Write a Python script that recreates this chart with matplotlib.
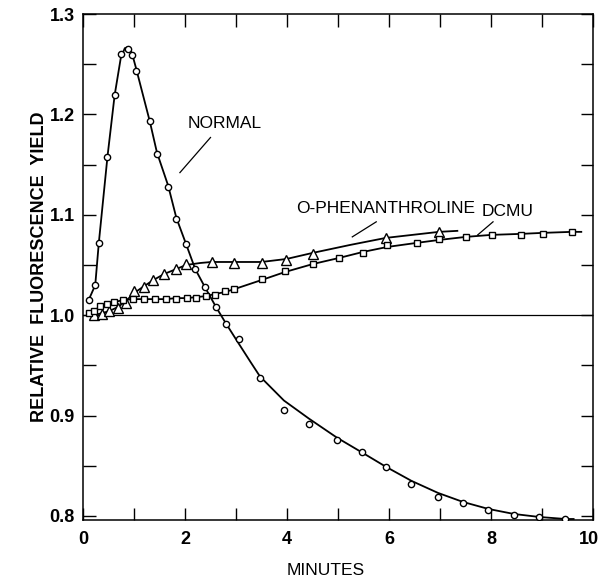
import numpy as np
import matplotlib
matplotlib.use("Agg")
import matplotlib.pyplot as plt
from matplotlib.transforms import ScaledTranslation

plt.rcParams['font.family'] = ['Liberation Sans', 'DejaVu Sans']

# данные (минуты, относительный выход флуоресценции)
normal_x = [0.11, 0.24, 0.31, 0.48, 0.62, 0.74, 0.89, 0.96, 1.04, 1.31, 1.45, 1.67,
            1.83, 2.02, 2.20, 2.39, 2.61, 2.80, 3.05, 3.47, 3.94, 4.43, 4.98, 5.48,
            5.94, 6.44, 6.96, 7.45, 7.95, 8.45, 8.95, 9.46]
normal_y = [1.015, 1.030, 1.072, 1.158, 1.219, 1.260, 1.265, 1.259, 1.243, 1.193, 1.161, 1.128,
            1.096, 1.071, 1.046, 1.028, 1.008, 0.991, 0.976, 0.937, 0.906, 0.892, 0.876, 0.864,
            0.849, 0.832, 0.819, 0.813, 0.806, 0.801, 0.799, 0.797]

# сглаженная кривая, проведённая от руки
normal_curve_x = [0.11, 0.24, 0.31, 0.48, 0.62, 0.74, 0.82, 0.89, 0.96, 1.04, 1.31, 1.45, 1.67,
                  1.83, 2.02, 2.20, 2.39, 2.61, 2.80, 3.05, 3.29, 3.47, 3.94, 4.43, 4.98, 5.48,
                  5.94, 6.44, 6.96, 7.45, 7.95, 8.45, 8.95, 9.46, 9.62]
normal_curve_y = [1.015, 1.030, 1.072, 1.158, 1.219, 1.256, 1.266, 1.267, 1.261, 1.246, 1.193, 1.162, 1.129,
                  1.097, 1.071, 1.046, 1.028, 1.008, 0.992, 0.972, 0.953, 0.939, 0.915, 0.897, 0.878, 0.863,
                  0.849, 0.835, 0.823, 0.814, 0.807, 0.802, 0.799, 0.797, 0.797]

phen_x = [0.21, 0.37, 0.51, 0.68, 0.84, 1.00, 1.20, 1.38, 1.59, 1.83, 2.02, 2.52,
          2.97, 3.50, 3.99, 4.50, 5.94, 6.98]
phen_y = [1.000, 1.001, 1.004, 1.007, 1.012, 1.024, 1.028, 1.035, 1.041, 1.046, 1.051, 1.053,
          1.052, 1.052, 1.055, 1.061, 1.077, 1.083]
phen_curve_x = [0.21, 0.37, 0.51, 0.68, 0.84, 1.00, 1.20, 1.38, 1.59, 1.83, 2.02, 2.30, 2.52,
                2.97, 3.50, 3.99, 4.50, 5.24, 5.94, 6.98, 7.34]
phen_curve_y = [1.000, 1.002, 1.004, 1.008, 1.014, 1.022, 1.029, 1.035, 1.041, 1.046, 1.050, 1.052, 1.053,
                1.053, 1.053, 1.056, 1.062, 1.070, 1.077, 1.083, 1.084]

dcmu_x = [0.12, 0.21, 0.34, 0.47, 0.61, 0.78, 0.98, 1.19, 1.41, 1.62, 1.83, 2.03, 2.22,
          2.41, 2.58, 2.78, 2.97, 3.50, 3.96, 4.51, 5.02, 5.49, 5.97, 6.54, 6.99,
          7.51, 8.01, 8.59, 9.02, 9.58]
dcmu_y = [1.002, 1.004, 1.009, 1.011, 1.013, 1.015, 1.016, 1.016, 1.016, 1.016, 1.016, 1.017, 1.017,
          1.019, 1.020, 1.024, 1.026, 1.036, 1.044, 1.051, 1.057, 1.062, 1.070, 1.072, 1.076,
          1.078, 1.080, 1.080, 1.081, 1.083]
dcmu_curve_x = [0.12, 0.21, 0.34, 0.47, 0.61, 0.78, 0.98, 1.19, 1.41, 1.62, 1.83, 2.03, 2.22,
                2.41, 2.58, 2.78, 2.97, 3.50, 3.96, 4.51, 5.02, 5.49, 5.97, 6.54, 6.99,
                7.51, 8.01, 8.59, 9.02, 9.58, 9.77]
dcmu_curve_y = [1.002, 1.005, 1.008, 1.011, 1.013, 1.015, 1.016, 1.016, 1.016, 1.016, 1.017, 1.017, 1.018,
                1.019, 1.021, 1.023, 1.026, 1.035, 1.043, 1.051, 1.057, 1.063, 1.068, 1.072, 1.075,
                1.078, 1.080, 1.081, 1.082, 1.083, 1.083]

x_ticks = [0, 1, 2, 3, 4, 5, 6, 7, 8, 9, 10]
x_labels = ['0', '', '2', '', '4', '', '6', '', '8', '', '10']
y_ticks = [0.8, 0.85, 0.9, 0.95, 1.0, 1.05, 1.1, 1.15, 1.2, 1.25, 1.3]
y_labels = ['0.8', '', '0.9', '', '1.0', '', '1.1', '', '1.2', '', '1.3']

fig = plt.figure(figsize=(5.98, 5.78), dpi=100)
ax = fig.add_axes([83 / 598, 1 - 520 / 578, 510 / 598, 506 / 578])

ax.axhline(1.0, color='black', lw=0.9)

ax.plot(normal_curve_x, normal_curve_y, color='black', lw=1.3, zorder=2)
ax.plot(phen_curve_x, phen_curve_y, color='black', lw=1.3, zorder=2)
ax.plot(dcmu_curve_x, dcmu_curve_y, color='black', lw=1.3, zorder=2)

ax.plot(normal_x, normal_y, 'o', ms=4.5, mfc='white', mec='black', mew=1.0, zorder=3)
ax.plot(phen_x, phen_y, '^', ms=7, mfc='white', mec='black', mew=1.0, zorder=3)
ax.plot(dcmu_x, dcmu_y, 's', ms=5, mfc='white', mec='black', mew=1.0, zorder=3)

# подписи кривых с выносками
txt = dict(fontsize=12.5, color='black')
ax.text(2.05, 1.191, 'NORMAL', ha='left', va='center', **txt)
ax.plot([2.50, 1.90], [1.177, 1.142], color='black', lw=0.9)
ax.text(5.93, 1.106, 'O-PHENANTHROLINE', ha='center', va='center', **txt)
ax.plot([5.75, 5.28], [1.093, 1.078], color='black', lw=0.9)
ax.text(7.82, 1.103, 'DCMU', ha='left', va='center', **txt)
ax.plot([8.04, 7.74], [1.093, 1.080], color='black', lw=0.9)

ax.set_xlim(0, 10)
ax.set_ylim(0.796, 1.3)
ax.set_xticks(x_ticks)
ax.set_xticklabels(x_labels, fontweight='bold')
ax.set_yticks(y_ticks)
ax.set_yticklabels(y_labels, fontweight='bold')
ax.tick_params(direction='in', length=9, width=1.0, top=True, right=True,
               labelsize=13)
ax.tick_params(axis='x', pad=8)
ax.tick_params(axis='y', pad=6)
for s in ax.spines.values():
    s.set_linewidth(1.1)

# "10" прижимаем вправо, чтобы не обрезалось
last = ax.get_xticklabels()[-1]
last.set_ha('right')
last.set_transform(last.get_transform() + ScaledTranslation(4 / 72, 0, fig.dpi_scale_trans))

ax.set_xlabel('MINUTES', fontsize=12.5)
ax.xaxis.set_label_coords(0.476, -0.084)
ax.set_ylabel('RELATIVE  FLUORESCENCE  YIELD', fontsize=13, fontweight='bold')
ax.yaxis.set_label_coords(-0.068, 0.5)

fig.savefig('out.png', dpi=100)
